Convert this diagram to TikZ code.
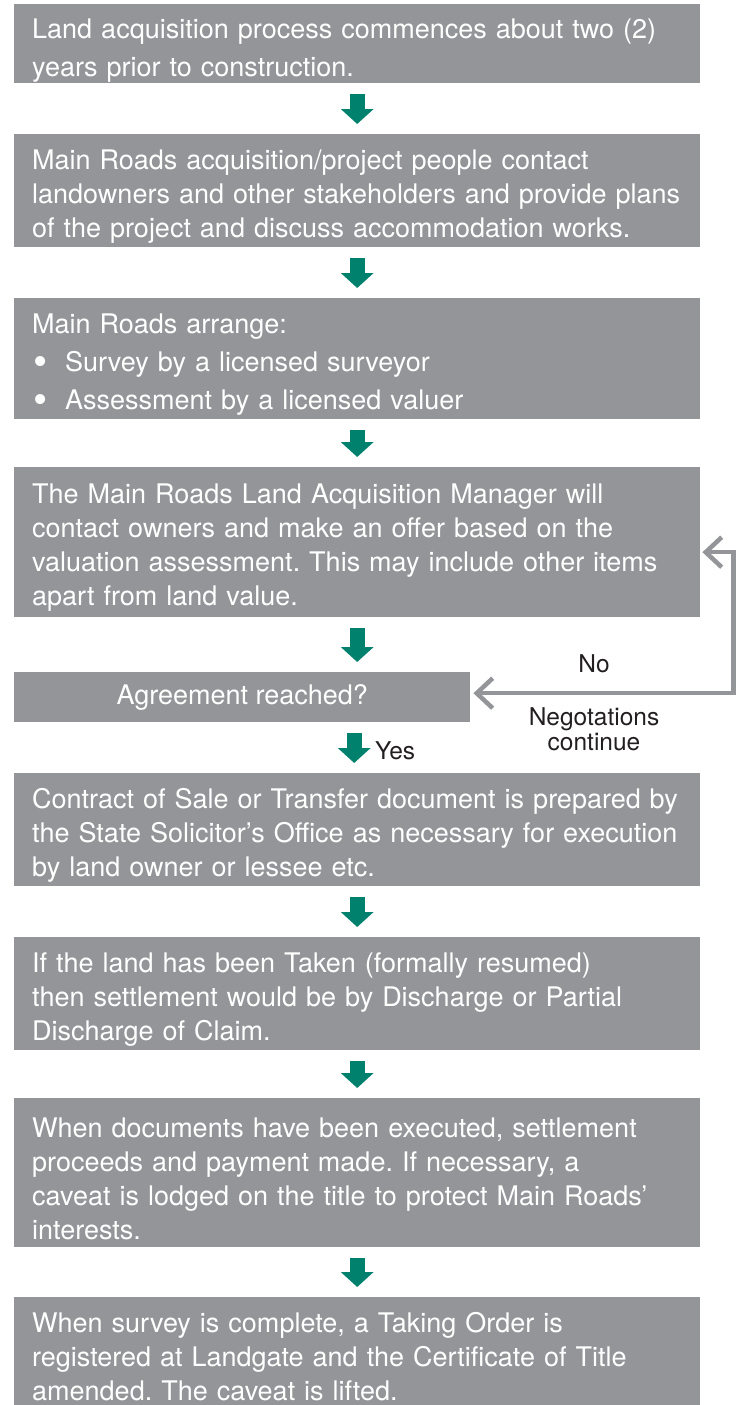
\documentclass[tikz,border=0pt]{standalone}
\usepackage{fontspec}
\setmainfont{TeX Gyre Heros}
\usetikzlibrary{arrows.meta}
\definecolor{boxgray}{HTML}{939598}
\definecolor{flowgreen}{HTML}{00816D}
\definecolor{labelblack}{HTML}{231F20}
\newcommand{\blt}{\makebox[33pt][l]{\hspace{1pt}\raisebox{-4pt}{\scalebox{1.5}{\textbullet}}}}
\frenchspacing
\begin{document}
\begin{tikzpicture}[x=1pt, y=-1pt,
    panel/.style={fill=boxgray, text=white, anchor=north west, inner xsep=18pt, inner ysep=0pt,
        font=\fontsize{27}{34}\selectfont},
    stage/.style={panel, minimum width=686pt, text width=650pt,
        execute at begin node={\rightskip=0pt plus 1fil minus 200pt\relax\rule{0pt}{31pt}}},
    query/.style={panel, minimum width=456pt, minimum height=50pt},
    wide/.style={font=\fontsize{27}{38}\selectfont},
    down/.style={draw=flowgreen, line width=15pt, -{Triangle[width=32pt, length=15pt]},
        shorten <=11pt, shorten >=10pt},
    back/.style={draw=boxgray, line width=4.5pt, {Straight Barb[width=30pt, length=16pt]}-{Straight Barb[width=30pt, length=16pt]},
        shorten <=2pt, shorten >=3pt},
    note/.style={text=labelblack, font=\fontsize{24.5}{25}\selectfont, align=center, inner sep=0pt}]
    \useasboundingbox (0, 0) rectangle (744, 1405);

    \node[stage, wide, minimum height=79pt] (b1) at (14, 4) {\rule{0pt}{34pt}Land acquisition process commences about two (2)\\years prior to construction.};
    \node[stage, minimum height=113pt] (b2) at (14, 134) {Main Roads acquisition/project people contact\\landowners and other stakeholders and provide plans\\of the project and discuss accommodation works.};
    \node[stage, wide, minimum height=121pt] (b3) at (14, 298) {Main Roads arrange:\\\blt Survey by a licensed surveyor\\\blt Assessment by a licensed valuer};
    \node[stage, minimum height=150pt] (b4) at (14, 467) {The Main Roads Land Acquisition Manager will\\contact owners and make an offer based on the\\valuation assessment. This may include other items\\apart from land value.};
    \node[query] (b5) at (14, 672) {Agreement reached?};
    \node[stage, minimum height=113pt] (b6) at (14, 773) {Contract of Sale or Transfer document is prepared by\\the State Solicitor's Office as necessary for execution\\by land owner or lessee etc.};
    \node[stage, minimum height=113pt] (b7) at (14, 937) {If the land has been Taken (formally resumed)\\then settlement would be by Discharge or Partial\\Discharge of Claim.};
    \node[stage, minimum height=149pt] (b8) at (14, 1098) {When documents have been executed, settlement\\proceeds and payment made. If necessary, a\\caveat is lodged on the title to protect Main Roads'\\interests.};
    \node[stage, minimum height=108pt] (b9) at (14, 1297) {When survey is complete, a Taking Order is\\registered at Landgate and the Certificate of Title\\amended. The caveat is lifted.};

    \draw[down] (b1.south) -- (b2.north);
    \draw[down] (b2.south) -- (b3.north);
    \draw[down] (b3.south) -- (b4.north);
    \draw[down] (b4.south) -- (b4.south |- b5.north);
    \draw[down] ([xshift=-3pt]b6.north |- b5.south) -- ([xshift=-3pt]b6.north);
    \draw[down] (b6.south) -- (b7.north);
    \draw[down] (b7.south) -- (b8.north);
    \draw[down] (b8.south) -- (b9.north);

    \node[note, anchor=west] (yes) at (375, 751) {Yes};

    \draw[back] ([yshift=-10pt]b4.east) -- ++(33, 0) |- ([yshift=4pt]b5.east);
    \node[note] (no) at (594, 664) {No};
    \node[note] (nego) at (594, 729) {Negotations\\continue};
\end{tikzpicture}
\end{document}
